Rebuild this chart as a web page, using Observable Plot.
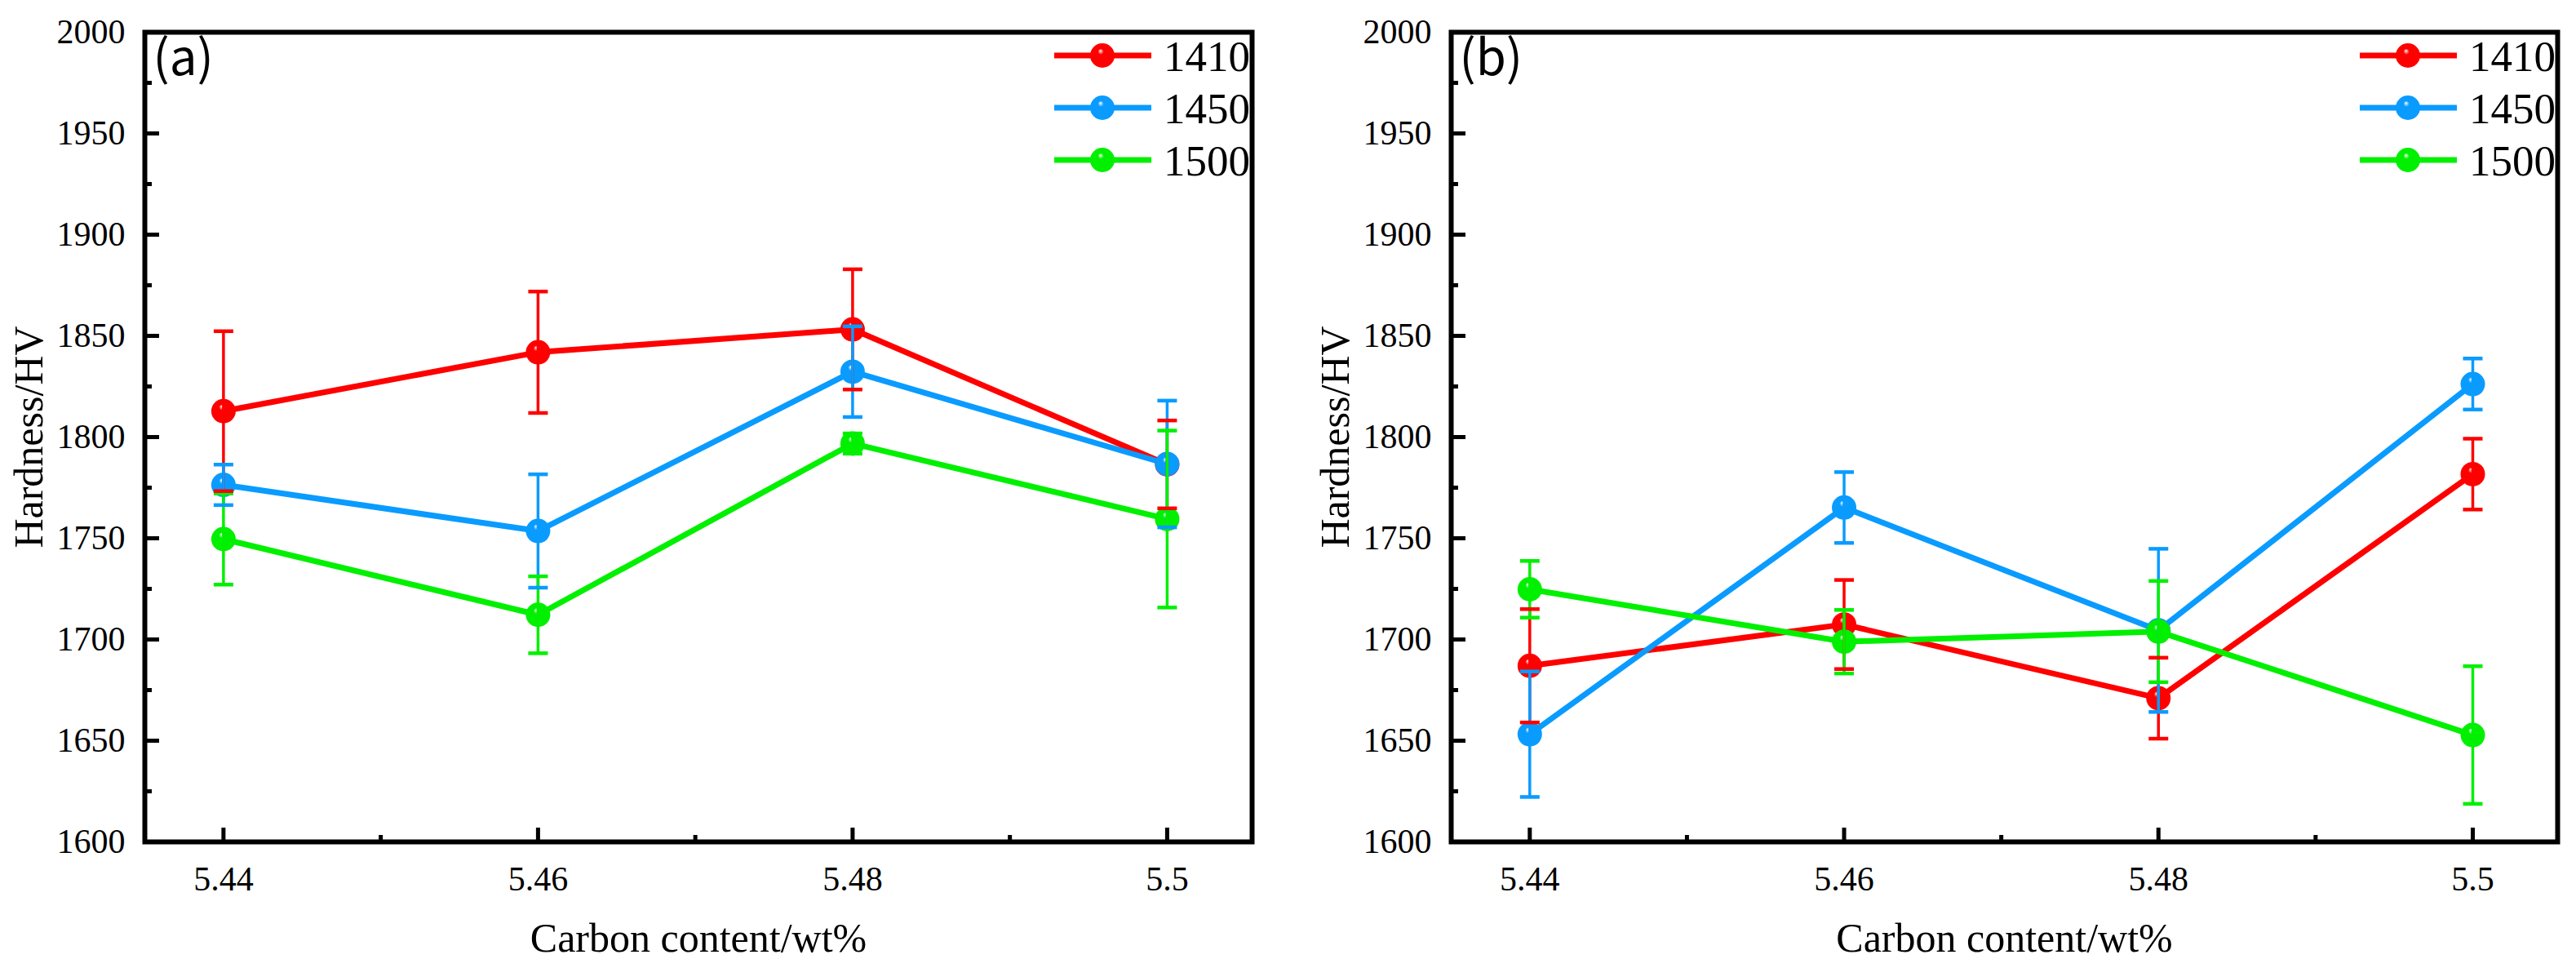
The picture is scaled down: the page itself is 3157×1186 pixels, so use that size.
<!DOCTYPE html>
<html><head><meta charset="utf-8">
<script src="https://cdn.jsdelivr.net/npm/d3@7"></script>
<script src="https://cdn.jsdelivr.net/npm/@observablehq/plot@0.6"></script>
<style>
html,body{margin:0;padding:0;background:#fff;}
#wrap{display:flex;width:3157px;height:1186px;overflow:hidden;}
#wrap svg{flex:none;}
#wrap svg text{font-family:"Liberation Serif","Times New Roman",serif;}
#wrap svg text.panel-label{font-family:"Noto Sans CJK SC","Noto Sans",sans-serif;}
</style></head><body><div id="wrap"></div>
<script>
// ---- data ----
const carbon = [5.44, 5.46, 5.48, 5.5];
const xTickLabels = ["5.44", "5.46", "5.48", "5.5"];
const xMinorTicks = [5.45, 5.47, 5.49];
const yTicks = [1600, 1650, 1700, 1750, 1800, 1850, 1900, 1950, 2000];
const yMinorTicks = [1625, 1675, 1725, 1775, 1825, 1875, 1925, 1975];
const series = ["1410", "1450", "1500"];
const seriesColors = ["#ff0000", "#0a9bff", "#00f000"];
const panelLabels = ["(a)", "(b)"];
const yLabel = "Hardness/HV";
const xLabel = "Carbon content/wt%";

// panel (a)
const a1410 = [1812.8, 1841.9, 1853.2, 1786.5];
const a1410Err = [39.5, 30.0, 29.7, 21.7];
const a1450 = [1776.4, 1753.6, 1832.3, 1786.7];
const a1450Err = [10.0, 28.0, 22.4, 31.3];
const a1500 = [1749.6, 1712.2, 1796.8, 1759.5];
const a1500Err = [22.5, 19.0, 5.0, 43.7];

// panel (b)
const b1410 = [1687.0, 1707.4, 1671.0, 1781.7];
const b1410Err = [28.0, 22.0, 20.0, 17.5];
const b1450 = [1653.2, 1765.2, 1704.5, 1826.2];
const b1450Err = [31.0, 17.5, 40.3, 12.6];
const b1500 = [1724.8, 1698.9, 1703.9, 1652.8];
const b1500Err = [14.0, 15.7, 25.0, 34.0];

function rowsOf(vals, errs) {
  return series.flatMap((s, i) => carbon.map((c, j) => ({series: s, x: c, y: vals[i][j], err: errs[i][j]})));
}
const rowsA = rowsOf([a1410, a1450, a1500], [a1410Err, a1450Err, a1500Err]);
const rowsB = rowsOf([b1410, b1450, b1500], [b1410Err, b1450Err, b1500Err]);

const serif = "Liberation Serif";
const capSymbol = {draw(ctx, size) { const w = Math.sqrt(size / Math.PI); ctx.moveTo(-w, 0); ctx.lineTo(w, 0); }};

function makePanel(id, rows, label, W, mL, mR) {
  const mT = 39, mB = 155, H = 1186;
  const chart = Plot.plot({
    width: W, height: H,
    marginLeft: mL, marginRight: mR, marginTop: mT, marginBottom: mB,
    x: {domain: [5.435, 5.5054]},
    y: {domain: [1600, 2000]},
    color: {domain: series, range: seriesColors},
    style: {fontFamily: serif, background: "white", color: "black", overflow: "visible"},
    marks: [
      Plot.axisY({ticks: yTicks, tickFormat: d => String(d), tickSize: 0, tickPadding: 24, fontSize: 42, label: null}),
      Plot.axisY({ticks: yTicks, tickSize: 18, dx: 18, text: null, strokeWidth: 5, label: null}),
      Plot.axisY({ticks: yMinorTicks, tickSize: 9, dx: 9, text: null, strokeWidth: 5, label: null}),
      Plot.axisX({ticks: carbon, tickFormat: d => xTickLabels[carbon.indexOf(d)], tickSize: 0, tickPadding: 30, fontSize: 42, label: null}),
      Plot.axisX({ticks: carbon, tickSize: 17, dy: -17, text: null, strokeWidth: 5, label: null}),
      Plot.axisX({ticks: xMinorTicks, tickSize: 8, dy: -8, text: null, strokeWidth: 5, label: null}),
      Plot.line(rows, {x: "x", y: "y", z: "series", stroke: "series", strokeWidth: 7}),
      ...series.map((s, i) => Plot.dot(rows.filter(r => r.series === s), {x: "x", y: "y", r: 15, fill: `url(#${id}-g${i})`, stroke: "none"})),
      Plot.ruleX(rows, {x: "x", y1: d => d.y - d.err, y2: d => d.y + d.err, stroke: "series", strokeWidth: 3.5}),
      Plot.dot(rows, {x: "x", y: d => d.y + d.err, symbol: capSymbol, r: 12, stroke: "series", strokeWidth: 4.5, fill: "none"}),
      Plot.dot(rows, {x: "x", y: d => d.y - d.err, symbol: capSymbol, r: 12, stroke: "series", strokeWidth: 4.5, fill: "none"}),
      Plot.frame({strokeWidth: 6}),
      Plot.text([label], {frameAnchor: "top-left", dx: 10, dy: 10, lineAnchor: "top", textAnchor: "start", fontSize: 60}),
      Plot.text([yLabel], {frameAnchor: "left", dx: -142, rotate: -90, textAnchor: "middle", lineAnchor: "middle", fontSize: 50}),
      Plot.text([xLabel], {frameAnchor: "bottom", dy: 118, textAnchor: "middle", lineAnchor: "middle", fontSize: 50})
    ]
  });
  const svg = d3.select(chart);
  svg.selectAll("text").filter(function() { return this.textContent === label; }).attr("class", "panel-label");
  const defs = svg.insert("defs", ":first-child");
  seriesColors.forEach((c, i) => {
    const g = defs.append("radialGradient").attr("id", `${id}-g${i}`)
      .attr("cx", "0.5").attr("cy", "0.5").attr("r", "0.55").attr("fx", "0.42").attr("fy", "0.3");
    g.append("stop").attr("offset", "0").attr("stop-color", "#ffffff");
    g.append("stop").attr("offset", "0.22").attr("stop-color", c);
    g.append("stop").attr("offset", "1").attr("stop-color", c);
  });
  // legend (top-right inside frame)
  const fr = W - mR;
  const lg = svg.append("g");
  series.forEach((s, i) => {
    const yy = mT + 29 + i * 64;
    lg.append("line").attr("x1", fr - 242).attr("x2", fr - 123).attr("y1", yy).attr("y2", yy)
      .attr("stroke", seriesColors[i]).attr("stroke-width", 7);
    lg.append("circle").attr("cx", fr - 183).attr("cy", yy).attr("r", 15).attr("fill", `url(#${id}-g${i})`);
    lg.append("text").attr("x", fr - 108).attr("y", yy).attr("dy", "0.35em")
      .attr("text-anchor", "start").attr("font-size", 53).attr("fill", "black").text(s);
  });
  return chart;
}

const wrap = document.getElementById("wrap");
wrap.appendChild(makePanel("pa", rowsA, panelLabels[0], 1578, 177, 44));
wrap.appendChild(makePanel("pb", rowsB, panelLabels[1], 1579, 200, 23));
</script>
</body></html>
